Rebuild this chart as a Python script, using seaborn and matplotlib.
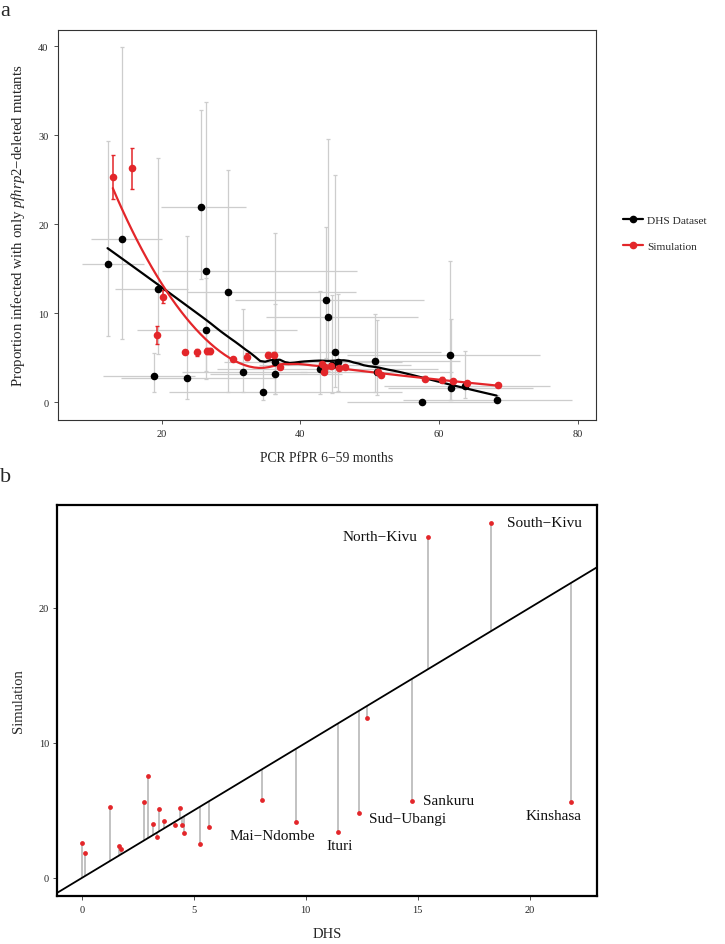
import numpy as np
import pandas as pd
import matplotlib
matplotlib.use("Agg")
import matplotlib.pyplot as plt
from matplotlib.lines import Line2D
import seaborn as sns

# ---------------- data: panel a (DHS dataset) ----------------
dhs_pfpr = [12.2, 14.3, 19.5, 18.9, 23.6, 25.7, 26.4, 26.4, 29.6, 31.8, 34.6, 36.4, 36.4,
            42.9, 43.7, 44.0, 45.0, 45.4, 50.7, 57.6, 61.6, 61.7, 63.7, 68.3, 51.0, 44.5]
dhs_prop = [15.5, 18.3, 12.7, 3.0, 2.7, 21.9, 14.8, 8.1, 12.4, 3.4, 1.2, 4.5, 3.2,
            3.7, 11.5, 9.6, 5.7, 4.5, 4.6, 0.0, 5.3, 1.6, 1.8, 0.2, 3.4, 4.2]
dhs_prop_lo = [7.5, 7.1, 5.4, 1.1, 0.4, 13.9, 2.6, 3.5, 1.2, 1.2, 0.3, 0.9, 0.9,
               0.9, 5.0, 3.5, 1.7, 1.3, 1.2, 0.0, 0.2, 0.3, 0.5, 0.0, 0.8, 1.0]
dhs_prop_hi = [29.4, 39.9, 27.4, 5.5, 18.7, 32.8, 33.7, 14.0, 26.1, 10.5, 4.5, 19.0, 11.0,
               12.5, 19.7, 29.6, 25.5, 12.2, 9.9, 0.3, 15.9, 9.4, 5.8, 0.8, 9.2, 12.0]
dhs_pfpr_lo = [8.5, 9.8, 13.3, 11.5, 14.2, 19.9, 20.0, 16.4, 23.6, 23.0, 21.1, 29.0, 27.0,
               28.0, 30.6, 35.0, 33.0, 36.0, 38.0, 46.7, 46.7, 52.7, 52.0, 54.8, 40.0, 34.0]
dhs_pfpr_hi = [17.4, 20.1, 23.8, 24.8, 36.5, 32.2, 48.2, 39.5, 48.0, 41.0, 54.6, 50.0, 46.0,
               59.9, 57.9, 56.9, 60.3, 54.7, 63.0, 68.0, 74.6, 73.5, 76.0, 79.2, 62.0, 56.0]

# ---------------- data: panel a (Simulation) ----------------
sim_pfpr = [12.96, 15.74, 20.2, 19.35, 23.35, 25.1, 26.6, 27.0, 30.36, 32.3, 35.3, 36.2, 37.0,
            43.1, 43.4, 43.6, 44.4, 45.65, 46.5, 51.14, 51.7, 58.0, 60.5, 62.0, 64.1, 68.5]
sim_prop = [25.28, 26.29, 11.87, 7.56, 5.62, 5.62, 5.76, 5.76, 4.83, 5.09, 5.31, 5.31, 4.0,
            4.3, 3.44, 3.93, 4.12, 3.82, 3.93, 3.44, 3.03, 2.62, 2.54, 2.39, 2.17, 1.91]
sim_prop_lo = [22.8, 24.0, 11.2, 6.6, 5.4, 5.2, 5.4, 5.4, 4.6, 4.7, 5.0, 5.0, 3.7,
               4.0, 3.2, 3.7, 3.9, 3.6, 3.7, 3.2, 2.8, 2.4, 2.3, 2.2, 2.0, 1.7]
sim_prop_hi = [27.8, 28.6, 12.6, 8.6, 5.9, 6.0, 6.1, 6.1, 5.1, 5.5, 5.6, 5.6, 4.3,
               4.6, 3.7, 4.2, 4.4, 4.1, 4.2, 3.7, 3.3, 2.9, 2.8, 2.6, 2.4, 2.1]

# ---------------- data: panel b ----------------
b_dhs = [0.0, 0.16, 1.27, 1.65, 1.75, 2.77, 2.97, 3.18, 3.37, 3.46, 3.66, 4.16, 4.37,
         4.47, 4.58, 5.28, 5.68, 8.06, 9.57, 11.46, 12.36, 12.76, 14.76, 15.47, 18.26, 21.86]
b_sim = [2.6, 1.88, 5.26, 2.37, 2.15, 5.63, 7.53, 3.97, 3.01, 5.09, 4.25, 3.95, 5.21,
         3.9, 3.36, 2.49, 3.75, 5.75, 4.15, 3.38, 4.84, 11.85, 5.73, 25.26, 26.3, 5.65]
b_names = ["", "", "", "", "", "", "", "", "", "", "", "", "",
           "", "", "", "", "", "Mai\u2212Ndombe", "Ituri", "Sud\u2212Ubangi", "", "Sankuru",
           "North\u2212Kivu", "South\u2212Kivu", "Kinshasa"]
label_offsets = {"Mai\u2212Ndombe": (-17, -10, "center"), "Ituri": (0.7, -9.6, "center"),
                 "Sud\u2212Ubangi": (35, -4, "center"), "Sankuru": (8, 0, "left"),
                 "North\u2212Kivu": (-8, 0, "right"), "South\u2212Kivu": (12, 0, "left"),
                 "Kinshasa": (-12.6, -10, "center")}

RED = "#e3262a"
GREY = "#cdcdcd"


def loess(x, y, grid, span=0.75, degree=2, iterations=0):
    """Local polynomial regression with tricube weights (optional robust reweighting)."""
    x = np.asarray(x, float); y = np.asarray(y, float)
    n = len(x); q = min(n, int(np.floor(n * span)))
    rob = np.ones(n)

    def fit_at(x0, rw):
        d = np.abs(x - x0)
        h = np.sort(d)[q - 1] * max(1.0, span)
        w = np.clip(1 - (d / h) ** 3, 0, None) ** 3 * rw
        X = np.vstack([(x - x0) ** k for k in range(degree + 1)]).T
        W = np.sqrt(w)
        beta, *_ = np.linalg.lstsq(X * W[:, None], y * W, rcond=None)
        return beta[0]

    for _ in range(iterations):
        fitted = np.array([fit_at(xi, rob) for xi in x])
        res = y - fitted
        s = np.median(np.abs(res))
        u = res / (6 * s) if s > 0 else np.zeros(n)
        rob = np.clip(1 - u ** 2, 0, None) ** 2
    return np.array([fit_at(g, rob) for g in grid])


sns.set_theme(style="white")
plt.rcParams["font.family"] = ["Liberation Serif", "DejaVu Serif"]
plt.rcParams["mathtext.fontset"] = "custom"
plt.rcParams["mathtext.rm"] = "Liberation Serif"
plt.rcParams["mathtext.it"] = "Liberation Serif:italic"

fig = plt.figure(figsize=(7.25, 9.45), dpi=100)
axa = fig.add_axes([0.0804, 0.5548, 0.7413, 0.4124])
axb = fig.add_axes([0.079, 0.0505, 0.744, 0.4144])

# ---------------- panel a ----------------
dhs_df = pd.DataFrame({"x": dhs_pfpr, "y": dhs_prop})
sim_df = pd.DataFrame({"x": sim_pfpr, "y": sim_prop})

xd = np.array(dhs_pfpr); yd = np.array(dhs_prop)
axa.errorbar(xd, yd, yerr=[yd - np.array(dhs_prop_lo), np.array(dhs_prop_hi) - yd],
             fmt="none", ecolor=GREY, elinewidth=0.9, capsize=1.5, capthick=0.9, zorder=1)
axa.errorbar(xd, yd, xerr=[xd - np.array(dhs_pfpr_lo), np.array(dhs_pfpr_hi) - xd],
             fmt="none", ecolor=GREY, elinewidth=0.9, capsize=0, zorder=1)
xs = np.array(sim_pfpr); ys = np.array(sim_prop)
axa.errorbar(xs, ys, yerr=[ys - np.array(sim_prop_lo), np.array(sim_prop_hi) - ys],
             fmt="none", ecolor=RED, elinewidth=1.1, capsize=1.5, capthick=1.0, zorder=2)

gd = np.linspace(min(dhs_pfpr), max(dhs_pfpr), 80)
gs = np.linspace(min(sim_pfpr), max(sim_pfpr), 80)
sns.lineplot(x=gd, y=loess(dhs_pfpr, dhs_prop, gd, span=0.6, degree=1, iterations=4),
             ax=axa, color="black", lw=1.6, zorder=3)
sns.lineplot(x=gs, y=loess(sim_pfpr, sim_prop, gs, span=0.95, degree=2, iterations=0),
             ax=axa, color=RED, lw=1.6, zorder=3)
sns.scatterplot(data=dhs_df, x="x", y="y", ax=axa, color="black", s=30, linewidth=0, zorder=4)
sns.scatterplot(data=sim_df, x="x", y="y", ax=axa, color=RED, s=30, linewidth=0, zorder=4)

axa.set_xlim(5.1, 82.6)
axa.set_ylim(-1.96, 41.83)
axa.set_xticks([20, 40, 60, 80])
axa.set_yticks([0, 10, 20, 30, 40])
axa.set_xlabel("PCR PfPR 6\u221259 months", fontsize=9.8, labelpad=9)
axa.set_ylabel("Proportion infected with only $\\mathit{pfhrp2}$\u2212deleted mutants", fontsize=10.7, labelpad=8)
for s in axa.spines.values():
    s.set_color("#333333"); s.set_linewidth(0.8)
axa.tick_params(axis="both", labelsize=7.5, length=3, width=0.6, color="#333333", pad=4, direction="out",
                bottom=True, left=True)

handles = [Line2D([0], [0], color="black", marker="o", markersize=4.5, lw=1.6),
           Line2D([0], [0], color=RED, marker="o", markersize=4.5, lw=1.6)]
axa.legend(handles, ["DHS Dataset", "Simulation"], loc="center left", bbox_to_anchor=(1.05, 0.479),
           frameon=False, fontsize=8.2, handlelength=1.75, handletextpad=0.4, labelspacing=1.35,
           borderpad=0, borderaxespad=0)

# ---------------- panel b ----------------
bdf = pd.DataFrame({"DHS": b_dhs, "Simulation": b_sim, "name": b_names})
axb.vlines(bdf["DHS"], bdf["DHS"], bdf["Simulation"], color="#bdbdbd", lw=1.3, zorder=1)
axb.axline((0, 0), slope=1, color="black", lw=1.3, zorder=2)
sns.scatterplot(data=bdf, x="DHS", y="Simulation", ax=axb, color=RED, s=12, linewidth=0, zorder=3)
for _, r in bdf.iterrows():
    if r["name"]:
        dx, dy, ha = label_offsets[r["name"]]
        axb.annotate(r["name"], (r["DHS"], r["Simulation"]), xytext=(dx, dy), textcoords="offset points",
                     ha=ha, va="center", fontsize=11, color="#111111")

axb.set_xlim(-1.1, 23.0)
axb.set_ylim(-1.36, 27.65)
axb.set_xticks([0, 5, 10, 15, 20])
axb.set_yticks([0, 10, 20])
axb.set_xlabel("DHS", fontsize=10.5, labelpad=10)
axb.set_ylabel("Simulation", fontsize=10.5, labelpad=10)
for s in axb.spines.values():
    s.set_color("black"); s.set_linewidth(1.6)
axb.tick_params(axis="both", labelsize=7.5, length=3, width=0.6, color="#333333", pad=3, direction="out",
                bottom=True, left=True)

fig.text(0.0, 0.998, "a", fontsize=16, va="top", ha="left")
fig.text(0.0, 0.505, "b", fontsize=16, va="top", ha="left")

fig.savefig("out.png", dpi=100)
